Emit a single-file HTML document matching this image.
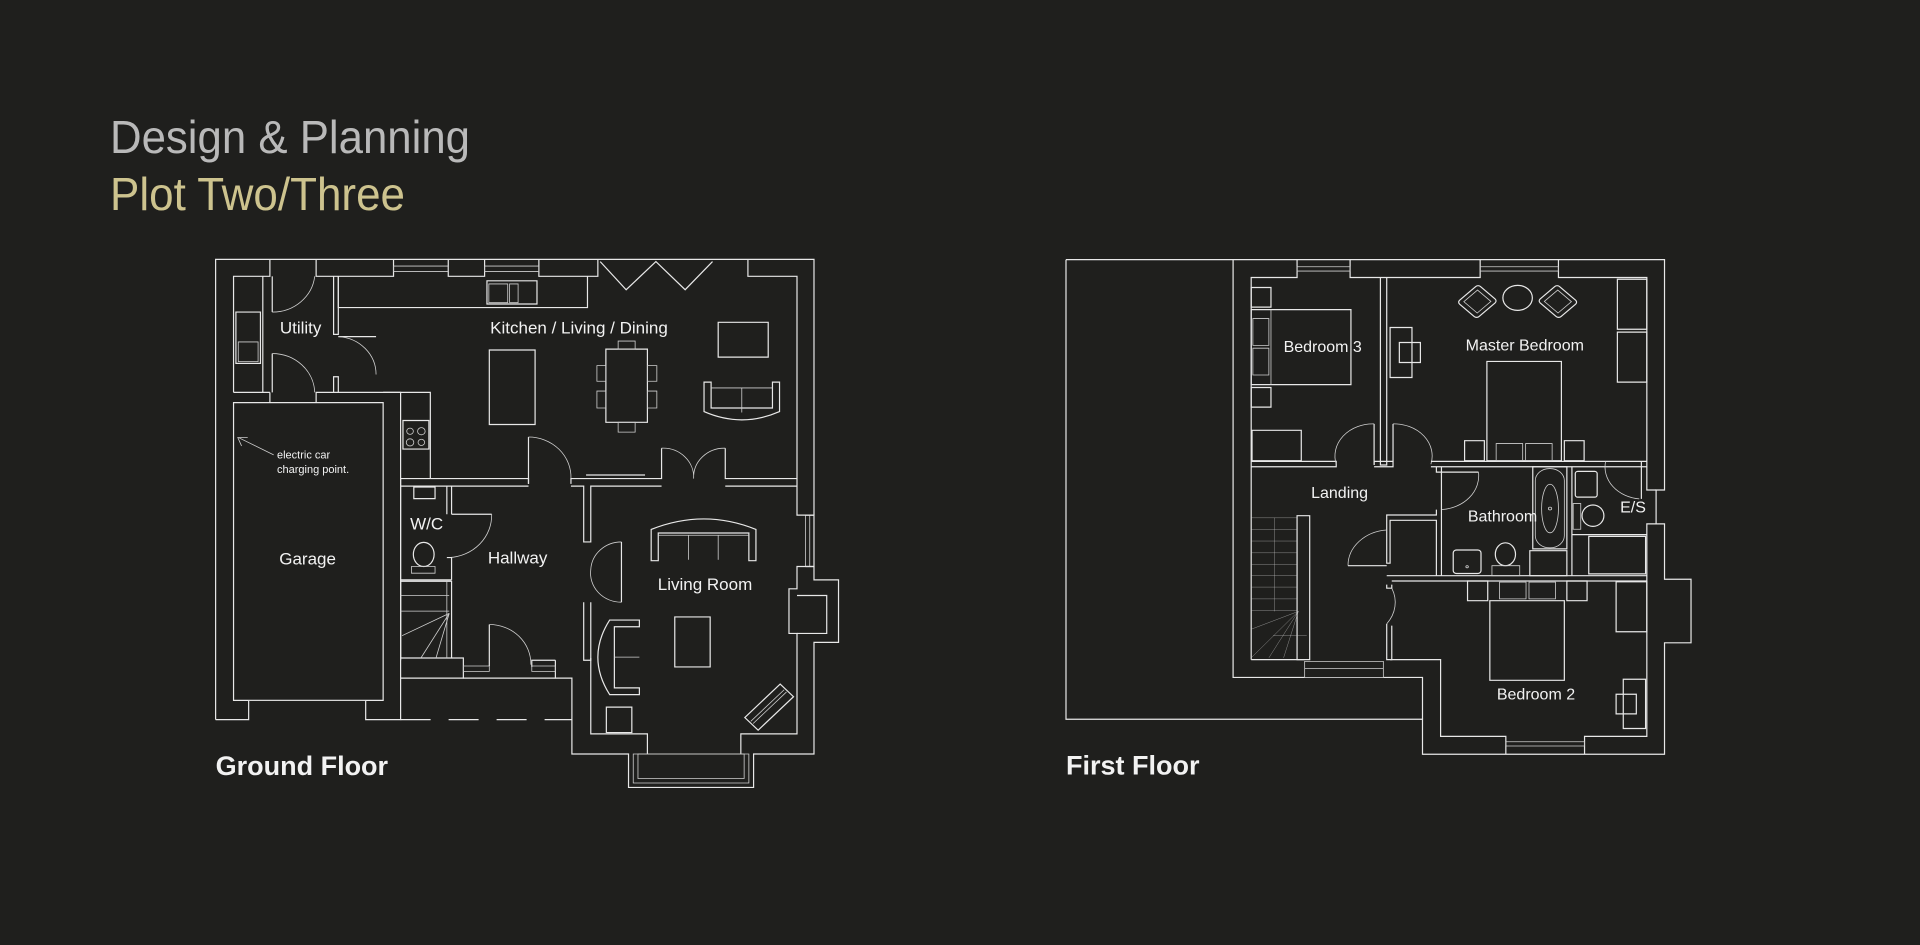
<!DOCTYPE html>
<html><head><meta charset="utf-8"><style>
html,body{margin:0;padding:0;background:#1f1f1d;}
svg{display:block}
text{font-family:"Liberation Sans",sans-serif;fill:#f2f2f2}
.l{fill:none;stroke:#e8e8e8;stroke-width:1.2;vector-effect:non-scaling-stroke}
.t{fill:none;stroke:#cfcfcf;stroke-width:0.8;vector-effect:non-scaling-stroke}
</style></head><body>
<svg width="1920" height="945" viewBox="0 0 1920 945" xmlns="http://www.w3.org/2000/svg">
<rect width="1920" height="945" fill="#1f1f1d"/>
<text x="110" y="153" font-size="46" style="fill:#b9b9b9;font-weight:300" textLength="360" lengthAdjust="spacingAndGlyphs">Design &amp; Planning</text>
<text x="110" y="210" font-size="46" style="fill:#cdc38e;font-weight:300" textLength="295" lengthAdjust="spacingAndGlyphs">Plot Two/Three</text>

<!-- GROUND FLOOR -->
<g transform="translate(100,100) scale(0.4719,0.4464)">
<polyline class="l" points="245,1388 245,357 1513,357 1513,930"/>
<polyline class="l" points="1513,1045 1513,1075 1565,1075 1565,1215 1513,1215 1513,1465 1385,1465 1385,1540 1120,1540 1120,1465 1000,1465 1000,1295 965,1295 965,1255"/>
<polyline class="l" points="1495,930 1513,930 1513,1045 1495,1045"/>
<line class="t" x1="1495" y1="930" x2="1495" y2="1045"/>
<line class="t" x1="1504" y1="930" x2="1504" y2="1045"/>
<polyline class="l" points="283,655 283,395 360,395 360,357"/>
<polyline class="l" points="458,357 458,395 622,395 622,357"/>
<polyline class="l" points="738,357 738,395 815,395 815,357"/>
<polyline class="l" points="930,357 930,395 1055,395 1055,357"/>
<polyline class="l" points="1373,357 1373,395 1477,395 1477,930 1513,930"/>
<rect class="t" x="622" y="372" width="116" height="12"/>
<rect class="t" x="815" y="372" width="115" height="12"/>
<polyline class="l" points="1060,362 1115,425 1178,362 1240,425 1298,362"/>
<polyline class="l" points="1513,1045 1477,1045 1477,1095 1460,1095 1460,1195 1477,1195 1477,1420 1358,1420 1358,1465"/>
<polyline class="l" points="1477,1110 1540,1110 1540,1195 1477,1195"/>
<polyline class="l" points="1160,1465 1160,1420 1040,1420 1040,1250"/>
<rect class="t" x="1130" y="1465" width="245" height="65"/>
<rect class="t" x="1140" y="1465" width="225" height="55"/>
<rect class="l" x="283" y="678" width="317" height="667"/>
<polyline class="l" points="245,1388 315,1388 315,1345"/>
<polyline class="l" points="563,1345 563,1388 637,1388 637,655 600,655"/>
<line class="t" x1="315" y1="1345" x2="563" y2="1345"/>
<line class="l" x1="283" y1="655" x2="360" y2="655"/>
<polyline class="l" points="360,678 360,655"/>
<polyline class="l" points="458,678 458,655 637,655"/>
<line class="l" x1="637" y1="1388" x2="1000" y2="1388" stroke-dasharray="30,18"/>
<polyline class="l" points="345,395 345,655"/>
<rect class="l" x="288" y="475" width="52" height="115"/>
<rect class="t" x="293" y="542" width="42" height="44"/>
<line class="l" x1="365" y1="395" x2="365" y2="475"/><path class="t" d="M365,475 A90,90 0 0 0 455,395"/>
<line class="l" x1="365" y1="568" x2="365" y2="655"/><path class="t" d="M365,568 A90,90 0 0 1 455,655"/>
<polyline class="l" points="495,395 495,525 505,525 505,395"/>
<polyline class="l" points="495,655 495,620 505,620 505,655"/>
<line class="l" x1="505" y1="530" x2="585" y2="530"/><path class="t" d="M505,530 A85,85 0 0 1 585,615"/>
<polyline class="l" points="505,395 505,465 1033,465 1033,395"/>
<rect class="l" x="820" y="405" width="106" height="52"/>
<rect class="t" x="824" y="412" width="40" height="42"/><rect class="t" x="868" y="412" width="18" height="42"/>
<rect class="l" x="825" y="560" width="97" height="167"/>
<rect class="l" x="1072" y="558" width="88" height="164"/>
<rect class="t" x="1098" y="540" width="36" height="18"/><rect class="t" x="1098" y="722" width="36" height="22"/>
<rect class="t" x="1053" y="595" width="19" height="35"/><rect class="t" x="1053" y="652" width="19" height="38"/>
<rect class="t" x="1160" y="595" width="20" height="35"/><rect class="t" x="1160" y="652" width="20" height="38"/>
<rect class="l" x="1310" y="498" width="106" height="78"/>
<path class="l" d="M1280,632 L1280,698 Q1360,735 1440,698 L1440,632 L1425,632 L1425,690 L1295,690 L1295,632 Z"/>
<line class="t" x1="1295" y1="645" x2="1425" y2="645"/><line class="t" x1="1360" y1="645" x2="1360" y2="700"/>
<polyline class="l" points="637,655 700,655 700,848"/>
<rect class="l" x="642" y="718" width="55" height="64"/>
<circle class="t" cx="657" cy="742" r="7"/><circle class="t" cx="681" cy="742" r="8"/><circle class="t" cx="657" cy="767" r="8"/><circle class="t" cx="681" cy="767" r="7"/>
<polyline class="l" points="637,848 908,848 908,860"/>
<polyline class="l" points="637,865 745,865 745,928"/>
<polyline class="l" points="735,865 735,928"/>
<polyline class="l" points="745,865 908,865"/>
<line class="l" x1="908" y1="860" x2="908" y2="755"/><path class="t" d="M908,755 A90,90 0 0 1 998,848"/>
<polyline class="l" points="998,860 998,848 1190,848 1190,780"/>
<polyline class="l" points="998,865 1025,865 1025,990 1040,990 1040,865 1190,865"/>
<line class="l" x1="1030" y1="840" x2="1155" y2="840"/>
<path class="t" d="M1190,780 A65,65 0 0 1 1258,848 A65,65 0 0 1 1325,780"/>
<polyline class="l" points="1325,780 1325,848 1477,848"/><polyline class="l" points="1325,865 1477,865"/>
<polyline class="l" points="637,848 637,1255"/>
<rect class="l" x="665" y="867" width="45" height="26"/>
<ellipse class="l" cx="686" cy="1018" rx="22" ry="27"/><rect class="t" x="660" y="1045" width="50" height="15"/>
<line class="l" x1="745" y1="928" x2="830" y2="928"/><path class="t" d="M830,928 A95,95 0 0 1 740,1025"/>
<polyline class="l" points="735,1025 745,1025 745,1075"/>
<line class="l" x1="637" y1="1075" x2="745" y2="1075"/>
<rect class="l" x="637" y="1078" width="108" height="172"/>
<line class="t" x1="637" y1="1110" x2="740" y2="1110"/><line class="t" x1="637" y1="1145" x2="740" y2="1145"/>
<line class="t" x1="740" y1="1150" x2="640" y2="1200"/><line class="t" x1="740" y1="1150" x2="680" y2="1250"/><line class="t" x1="740" y1="1150" x2="712" y2="1250"/>
<line class="t" x1="735" y1="1078" x2="735" y2="1250"/>
<path class="t" d="M1040,1052 A65,65 0 0 1 1105,990 M1040,1052 A65,65 0 0 0 1105,1125"/>
<line class="l" x1="1105" y1="990" x2="1105" y2="1125"/>
<polyline class="l" points="1025,1125 1025,1255 1040,1255 1040,1125"/>
<polyline class="l" points="745,1250 770,1250 770,1295 637,1295"/>
<polyline class="l" points="965,1255 915,1255 915,1270"/>
<rect class="t" x="770" y="1268" width="55" height="12"/><rect class="t" x="915" y="1268" width="50" height="12"/>
<line class="l" x1="825" y1="1175" x2="825" y2="1268"/><path class="t" d="M825,1175 A88,88 0 0 1 913,1265"/>
<line class="l" x1="770" y1="1295" x2="965" y2="1295"/>
<path class="l" d="M1168,962 Q1280,915 1390,962 L1390,1032 L1375,1032 L1375,970 L1183,970 L1183,1032 L1168,1032 Z"/>
<line class="t" x1="1183" y1="975" x2="1375" y2="975"/><line class="t" x1="1247" y1="975" x2="1247" y2="1030"/><line class="t" x1="1310" y1="975" x2="1310" y2="1030"/>
<rect class="l" x="1218" y="1158" width="75" height="112"/>
<path class="l" d="M1143,1165 L1080,1165 Q1030,1248 1080,1332 L1143,1332 L1143,1317 L1090,1317 L1090,1180 L1143,1180 Z"/>
<line class="t" x1="1090" y1="1248" x2="1143" y2="1248"/>
<rect class="l" x="1073" y="1360" width="54" height="57"/>
<g transform="rotate(-45 1418 1360)"><rect class="l" x="1365" y="1340" width="106" height="40"/><line class="t" x1="1368" y1="1355" x2="1468" y2="1355"/><line class="t" x1="1368" y1="1362" x2="1468" y2="1362"/></g>
<line class="t" x1="368" y1="795" x2="295" y2="757"/><polyline class="t" points="300,775 292,756 313,756"/>
</g>
<g font-size="17" text-anchor="middle">
<text x="300.6" y="333.5">Utility</text>
<text x="579" y="333.5">Kitchen / Living / Dining</text>
<text x="426.6" y="529.4">W/C</text>
<text x="307.6" y="564.3">Garage</text>
<text x="517.6" y="563.4">Hallway</text>
<text x="705" y="590">Living Room</text>
</g>
<text x="277" y="458.5" font-size="11">electric car</text>
<text x="277" y="473.2" font-size="11">charging point.</text>
<text x="215.6" y="775" font-size="27" font-weight="bold">Ground Floor</text>

<!-- FIRST FLOOR -->
<g transform="translate(1050,240) scale(0.4209,0.3571)">
<polyline class="l" points="38,55 1460,55 1460,700 1440,700 1440,795 1460,795 1460,950 1523,950 1523,1128 1460,1128 1460,1440 885,1440 885,1342 38,1342 38,55"/>
<polyline class="l" points="435,55 435,1225 605,1225"/>
<polyline class="l" points="792,1225 885,1225 885,1342"/>
<rect class="t" x="605" y="1180" width="187" height="45"/><line class="t" x1="605" y1="1200" x2="792" y2="1200"/>
<polyline class="l" points="478,1175 478,105 587,105 587,55"/>
<polyline class="l" points="713,55 713,105 1022,105 1022,55"/>
<polyline class="l" points="1208,55 1208,105 1418,105 1418,700 1440,700"/>
<rect class="t" x="587" y="75" width="126" height="12"/><rect class="t" x="1022" y="75" width="186" height="12"/>
<polyline class="l" points="1440,795 1418,795 1418,1390 1270,1390 1270,1440"/>
<polyline class="l" points="1083,1440 1083,1390 928,1390 928,1175 808,1175"/>
<rect class="t" x="1083" y="1405" width="187" height="12"/>
<line class="l" x1="478" y1="1175" x2="605" y2="1175"/>
<polyline class="l" points="785,105 785,630 800,630 800,105"/>
<polyline class="l" points="478,620 680,620 680,635 478,635"/>
<path class="t" d="M680,628 A90,90 0 0 1 770,515"/><line class="l" x1="770" y1="515" x2="770" y2="630"/>
<polyline class="l" points="770,630 770,620 815,620 815,635 770,635"/>
<path class="t" d="M905,628 A90,90 0 0 0 815,515"/><line class="l" x1="815" y1="515" x2="815" y2="620"/>
<polyline class="l" points="905,620 1418,620"/>
<polyline class="l" points="905,635 1418,635"/>
<polyline class="l" points="918,635 918,650 1018,650"/><path class="t" d="M1018,650 A95,95 0 0 1 930,755"/>
<polyline class="l" points="930,635 930,940"/>
<polyline class="l" points="918,755 918,770 800,770 800,905 808,905 808,785 918,785 918,940"/>
<path class="t" d="M708,912 A100,100 0 0 1 800,812"/><line class="l" x1="708" y1="912" x2="800" y2="912"/>
<polyline class="l" points="800,940 1418,940"/><polyline class="l" points="812,955 1418,955"/>
<polyline class="l" points="800,965 800,975 812,975 812,965"/>
<path class="t" d="M812,975 A100,100 0 0 1 800,1075"/>
<polyline class="l" points="800,1075 800,1175 812,1175 812,1080"/>
<rect class="l" x="587" y="772" width="30" height="403"/>
<g class="t">
<line x1="478" y1="778" x2="587" y2="778"/><line x1="478" y1="810" x2="587" y2="810"/><line x1="478" y1="843" x2="587" y2="843"/><line x1="478" y1="876" x2="587" y2="876"/><line x1="478" y1="908" x2="587" y2="908"/><line x1="478" y1="940" x2="587" y2="940"/><line x1="478" y1="972" x2="587" y2="972"/><line x1="478" y1="1005" x2="587" y2="1005"/><line x1="478" y1="1038" x2="587" y2="1038"/>
<line x1="533" y1="778" x2="533" y2="1040"/>
<line x1="590" y1="1040" x2="478" y2="1090"/><line x1="590" y1="1040" x2="478" y2="1170"/><line x1="590" y1="1040" x2="520" y2="1170"/><line x1="590" y1="1040" x2="555" y2="1170"/><line x1="530" y1="1108" x2="610" y2="1108"/>
</g>
<rect class="l" x="478" y="133" width="47" height="55"/><rect class="l" x="478" y="413" width="47" height="55"/>
<rect class="l" x="478" y="195" width="237" height="210"/><rect class="t" x="482" y="220" width="38" height="75"/><rect class="t" x="482" y="303" width="38" height="75"/><line class="t" x1="525" y1="195" x2="525" y2="405"/>
<rect class="l" x="480" y="533" width="117" height="85"/>
<rect class="l" x="808" y="245" width="52" height="140"/><rect class="l" x="830" y="287" width="50" height="56"/>
<circle class="l" cx="1111" cy="162" r="35"/>
<g transform="rotate(-45 1015 172)"><rect class="l" x="980" y="140" width="70" height="65" rx="8"/><rect class="t" x="992" y="150" width="46" height="45"/></g>
<g transform="rotate(45 1207 172)"><rect class="l" x="1172" y="140" width="70" height="65" rx="8"/><rect class="t" x="1184" y="150" width="46" height="45"/></g>
<rect class="l" x="1038" y="340" width="177" height="278"/>
<rect class="l" x="985" y="562" width="47" height="56"/><rect class="l" x="1222" y="562" width="47" height="56"/>
<rect class="t" x="1060" y="570" width="63" height="48"/><rect class="t" x="1130" y="570" width="63" height="48"/>
<rect class="l" x="1348" y="110" width="70" height="140"/><rect class="l" x="1348" y="258" width="70" height="140"/>
<rect class="l" x="1147" y="635" width="81" height="230"/><rect class="t" x="1153" y="640" width="69" height="222" rx="34"/><ellipse class="t" cx="1188" cy="752" rx="20" ry="68"/><circle class="t" cx="1188" cy="752" r="4"/>
<rect class="l" x="1140" y="870" width="88" height="70"/>
<rect class="l" x="958" y="868" width="66" height="66" rx="8"/><circle class="t" cx="991" cy="915" r="3"/>
<ellipse class="l" cx="1082" cy="880" rx="24" ry="32"/><rect class="t" x="1050" y="912" width="66" height="28"/>
<polyline class="l" points="1240,635 1240,940"/>
<rect class="l" x="1248" y="648" width="52" height="72" rx="6"/>
<ellipse class="l" cx="1290" cy="772" rx="26" ry="30"/><rect class="t" x="1243" y="738" width="18" height="72"/>
<rect class="l" x="1280" y="830" width="135" height="105"/><line class="l" x1="1240" y1="825" x2="1418" y2="825"/>
<path class="t" d="M1320,620 A90,90 0 0 0 1400,725"/><line class="l" x1="1405" y1="620" x2="1405" y2="725"/>
<rect class="l" x="992" y="955" width="48" height="55"/><rect class="l" x="1228" y="955" width="48" height="55"/>
<rect class="t" x="1068" y="958" width="63" height="47"/><rect class="t" x="1138" y="958" width="63" height="47"/>
<rect class="l" x="1045" y="1010" width="177" height="223"/>
<rect class="l" x="1345" y="957" width="73" height="140"/>
<rect class="l" x="1362" y="1230" width="53" height="138"/><rect class="l" x="1345" y="1272" width="48" height="55"/>
</g>
<g font-size="16" text-anchor="middle">
<text x="1322.7" y="351.8">Bedroom 3</text>
<text x="1524.8" y="350.7">Master Bedroom</text>
<text x="1339.6" y="497.8">Landing</text>
<text x="1502.5" y="521.4">Bathroom</text>
<text x="1633" y="512.5">E/S</text>
<text x="1536" y="699.6">Bedroom 2</text>
</g>
<text x="1066" y="774.6" font-size="27" font-weight="bold">First Floor</text>
</svg>
</body></html>
